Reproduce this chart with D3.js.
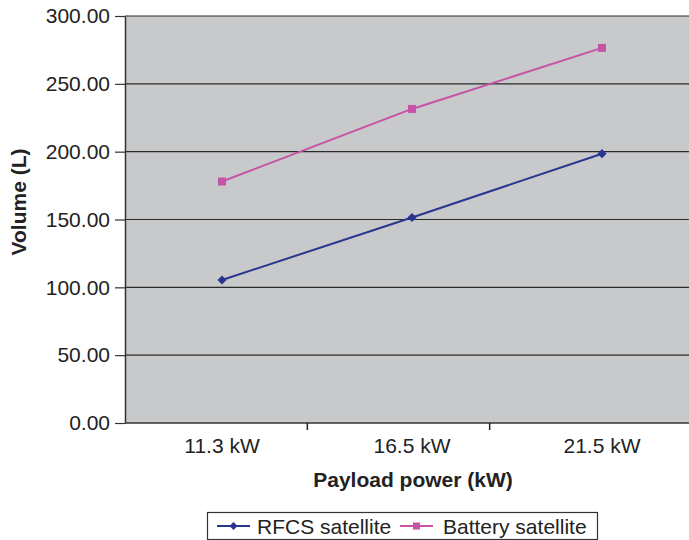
<!DOCTYPE html>
<html><head><meta charset="utf-8">
<script src="https://cdn.jsdelivr.net/npm/d3@7"></script>
<style>body{margin:0;background:#fff}svg{display:block;font-family:"Liberation Sans",Arial,sans-serif}</style>
</head><body><svg id="c" width="689" height="540"></svg>
<script>
const categories = ["11.3 kW", "16.5 kW", "21.5 kW"];
const rfcs = [105.4, 151.5, 198.5];
const battery = [178.0, 231.5, 276.5];
const yTicks = [0, 50, 100, 150, 200, 250, 300];
const seriesNames = ["RFCS satellite", "Battery satellite"];
const colors = ["#2B3591", "#C653A6"];

const svg = d3.select("#c");
const L = 125, R = 689, T = 16, B = 423;
const FS = 21;
const x = d3.scaleBand().domain(categories).range([127, 697]).padding(0);
const xTickScale = d3.scaleLinear().domain([0, 3]).range([125, 672]);
const y = d3.scaleLinear().domain([0, 300]).range([B, T]);

svg.append("rect").attr("x", L).attr("y", T).attr("width", R - L).attr("height", B - T).attr("fill", "#C8C9CB");

// gridlines
svg.append("g").selectAll("line").data(yTicks.filter(d => d > 0)).join("line")
  .attr("x1", L).attr("x2", R).attr("y1", d => y(d)).attr("y2", d => y(d))
  .attr("stroke", "#2a2a2a").attr("stroke-width", 1.2);

// y axis
const yAxis = d3.axisLeft(y).tickValues(yTicks).tickFormat(d3.format(".2f")).tickSize(10).tickSizeOuter(0);
const gy = svg.append("g").attr("transform", `translate(${L},0)`).call(yAxis);
gy.select(".domain").attr("stroke", "#333").attr("stroke-width", 1.5);
gy.selectAll(".tick line").attr("stroke", "#333").attr("stroke-width", 1.2);
gy.selectAll(".tick text").attr("font-size", FS).attr("fill", "#222").attr("x", -15).attr("font-family", "Liberation Sans, Arial, sans-serif");

// x axis line
svg.append("line").attr("x1", L).attr("x2", R).attr("y1", B).attr("y2", B).attr("stroke", "#333").attr("stroke-width", 1.5);
svg.append("g").selectAll("line").data([1, 2]).join("line")
  .attr("x1", d => xTickScale(d)).attr("x2", d => xTickScale(d)).attr("y1", B).attr("y2", B + 7)
  .attr("stroke", "#222").attr("stroke-width", 1.5);
svg.append("g").selectAll("text").data(categories).join("text")
  .attr("x", d => x(d) + x.bandwidth() / 2).attr("y", 453)
  .attr("text-anchor", "middle").attr("font-size", FS).attr("fill", "#222").text(d => d);

// titles
svg.append("text").attr("x", 413).attr("y", 487).attr("text-anchor", "middle")
  .attr("font-size", FS).attr("font-weight", "bold").attr("fill", "#222").text("Payload power (kW)");
svg.append("text").attr("transform", "translate(26,202) rotate(-90)").attr("text-anchor", "middle")
  .attr("font-size", FS).attr("font-weight", "bold").attr("fill", "#222").text("Volume (L)");

const cx = d => x(d) + x.bandwidth() / 2;
const line = d3.line().x((d, i) => cx(categories[i])).y(d => y(d));
const data = [rfcs, battery];
data.forEach((vals, si) => {
  svg.append("path").attr("d", line(vals)).attr("fill", "none").attr("stroke", colors[si]).attr("stroke-width", 2);
  const size = si === 0 ? 42 : 64;
  const rot = si === 0 ? 45 : 0;
  svg.append("g").selectAll("path").data(vals).join("path")
    .attr("transform", (d, i) => `translate(${cx(categories[i])},${y(d)}) rotate(${rot})`)
    .attr("d", d3.symbol(d3.symbolSquare, size)).attr("fill", colors[si]);
});

// legend
const lg = svg.append("g");
lg.append("rect").attr("x", 207.5).attr("y", 512.5).attr("width", 390).attr("height", 27).attr("fill", "#fff").attr("stroke", "#333").attr("stroke-width", 1.2);
const legX = [217, 400], textX = [257, 443];
seriesNames.forEach((n, si) => {
  lg.append("line").attr("x1", legX[si]).attr("x2", legX[si] + 33).attr("y1", 526).attr("y2", 526).attr("stroke", colors[si]).attr("stroke-width", 2);
  lg.append("path").attr("transform", `translate(${legX[si] + 16.5},526) rotate(${si === 0 ? 45 : 0})`)
    .attr("d", d3.symbol(d3.symbolSquare, si === 0 ? 32 : 49)).attr("fill", colors[si]);
  lg.append("text").attr("x", textX[si]).attr("y", 533.5).attr("font-size", FS).attr("fill", "#222").text(n);
});
</script></body></html>
